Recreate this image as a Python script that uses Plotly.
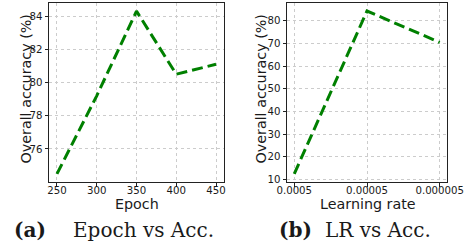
import plotly.graph_objects as go

# Data
epochs = [250, 300, 350, 400, 450]
epoch_acc = [74.5, 79.2, 84.3, 80.5, 81.1]
lr_labels = ["0.0005", "0.00005", "0.000005"]
lr_acc = [12.5, 84.3, 70.5]
left_yticks = [76, 78, 80, 82, 84]
right_yticks = [10, 20, 30, 40, 50, 60, 70, 80]

W, H = 466, 243
GREEN = "#008000"
TXT = "#1a1a1a"

def px_x(x):
    return x / W

def px_y(y):
    return (H - y) / H

fig = go.Figure()
line_style = dict(color=GREEN, width=3, dash="11px,5px")
fig.add_trace(go.Scatter(x=epochs, y=epoch_acc, mode="lines", line=line_style,
                         xaxis="x", yaxis="y", showlegend=False, hoverinfo="skip"))
fig.add_trace(go.Scatter(x=lr_labels, y=lr_acc, mode="lines", line=line_style,
                         xaxis="x2", yaxis="y2", showlegend=False, hoverinfo="skip"))

tickfont = dict(family="DejaVu Sans", size=10.2, color=TXT)
common = dict(showline=True, mirror=True, linecolor="#222", linewidth=1,
              showgrid=True, gridcolor="#cccccc", gridwidth=1, griddash="dot",
              ticks="outside", ticklen=3.5, tickwidth=1, tickcolor="#222",
              tickfont=tickfont, zeroline=False, automargin=False)

ydom = [px_y(182), px_y(3)]
fig.update_layout(
    width=W, height=H, margin=dict(l=0, r=0, t=0, b=0),
    paper_bgcolor="white", plot_bgcolor="white",
    xaxis=dict(domain=[px_x(49), px_x(224)], range=[240, 460],
               tickvals=epochs, anchor="y", ticklabelstandoff=-5, **common),
    yaxis=dict(domain=ydom, range=[74.01, 84.79], tickvals=left_yticks,
               anchor="x", **common),
    xaxis2=dict(domain=[px_x(287), px_x(447)], type="category", range=[-0.1, 2.1],
                anchor="y2", ticklabelstandoff=-5, **common),
    yaxis2=dict(domain=ydom, range=[8.9, 87.85], tickvals=right_yticks,
                anchor="x2", **common),
)

titlefont = dict(family="DejaVu Sans", size=14.3, color=TXT)
annots = [
    dict(text="Epoch", x=px_x(136.5), y=px_y(203.5), font=titlefont),
    dict(text="Learning rate", x=px_x(367.5), y=px_y(203.5), font=titlefont),
    dict(text="Overall accuracy (%)", x=px_x(25.5), y=px_y(89), textangle=-90, font=titlefont),
    dict(text="Overall accuracy (%)", x=px_x(260.5), y=px_y(89), textangle=-90, font=titlefont),
]
capfont = dict(family="DejaVu Serif", size=20, color=TXT)
annots += [
    dict(text="<b>(a)</b>", x=px_x(30), y=px_y(229.5), font=capfont),
    dict(text="Epoch vs Acc.", x=px_x(143), y=px_y(229.5), font=capfont),
    dict(text="<b>(b)</b>", x=px_x(295.5), y=px_y(229.5), font=capfont),
    dict(text="LR vs Acc.", x=px_x(378), y=px_y(229.5), font=capfont),
]
for a in annots:
    fig.add_annotation(xref="paper", yref="paper", showarrow=False,
                       xanchor="center", yanchor="middle", **a)

fig.write_html(
    "out.html",
    config={"displayModeBar": False, "staticPlot": True},
    post_script="document.body.style.margin='0';document.body.style.padding='0';"
                "document.documentElement.style.overflow='hidden';",
)
